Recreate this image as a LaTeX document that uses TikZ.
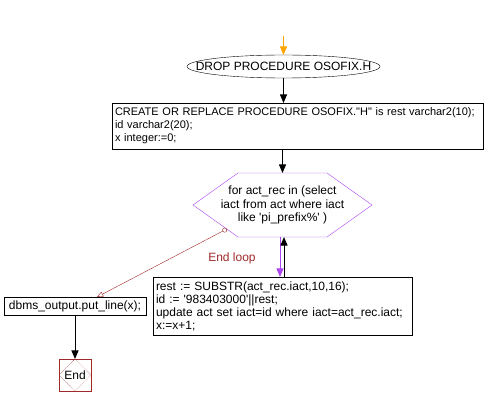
\documentclass[tikz,border=0pt]{standalone}
\usepackage{fontspec}
\setmainfont{Liberation Sans}[Ligatures=TeXOff]
\usetikzlibrary{arrows,calc,positioning,shapes.geometric}
\definecolor{loopviolet}{RGB}{170,70,240}
\definecolor{endred}{RGB}{160,40,40}
\definecolor{startorange}{RGB}{255,165,0}

\begin{document}
\begin{tikzpicture}[x=1pt,y=-1pt,>=triangle 45,
  every node/.style={font=\fontsize{12}{13}\selectfont, outer sep=0pt},
  box/.style={draw, rectangle, inner xsep=3pt, inner ysep=0pt, align=left},
  dropbox/.style={draw, ellipse, minimum width=193pt, minimum height=23pt, inner sep=0pt},
  loopbox/.style={minimum width=179pt, minimum height=64pt, inner sep=0pt, align=center,
    font=\fontsize{12}{13.5}\selectfont},
  stopbox/.style={draw=endred, minimum size=32pt, inner sep=0pt},
  flow/.style={->, line width=1pt}]

  \useasboundingbox (0,0) rectangle (485,406);

  \node(drop)[dropbox] at (283.5,66.5) {\makebox[0pt]{DROP PROCEDURE OSOFIX.H}};

  \node(create)[box,text width=365pt,minimum height=46pt,font=\fontsize{11}{13}\selectfont] at (297.5,126)
    {\mbox{CREATE OR REPLACE PROCEDURE OSOFIX."H" is rest varchar2(10);}\\
     id varchar2(20);\\
     x integer:=0;};

  % loop head, hexagon drawn round it
  \node(loop)[loopbox] at (282.5,205)
    {for act\_rec in (select\\iact from act where iact\\like 'pi\_prefix\%' )};
  \draw[loopviolet] (loop.west) -- ([xshift=45pt]loop.north west) -- ([xshift=-45pt]loop.north east)
    -- (loop.east) -- ([xshift=-45pt]loop.south east) -- ([xshift=45pt]loop.south west) -- cycle;

  \node(body)[box,text width=253pt,minimum height=58pt] at (282.5,306)
    {rest := SUBSTR(act\_rec.iact,10,16);\\
     id := '983403000'||rest;\\
     update act set iact=id where iact=act\_rec.iact;\\
     x:=x+1;};

  \node(output)[box,align=center,minimum width=142pt,minimum height=18pt,left=7pt of body] {dbms\_output.put\_line(x);};

  \node(stop)[stopbox,below=44pt of output] {End};
  \draw[endred,densely dotted] (stop.north) -- (stop.east) -- (stop.south) -- (stop.west) -- cycle;

  \node(endlabel)[text=endred] at (232,258) {End loop};

  \coordinate (start) at (283.5,36);
  \draw[flow,startorange] (start) to (drop);
  \draw[flow] (drop.south) to (drop.south |- create.north);
  \draw[flow] (loop.north |- create.south) to (loop.north);

  \draw[flow,loopviolet] ([xshift=-2.5pt]loop.south) to ([xshift=-2.5pt]loop.south |- body.north);
  \draw[flow] ([xshift=1.5pt]loop.south |- body.north) to ([xshift=1.5pt]loop.south);

  \coordinate (exit) at ($(loop.west)!0.75!([xshift=45pt]loop.south west)$);
  \draw[endred,>=open triangle 45,o->] (exit) to ([xshift=22pt]output.north);

  \draw[flow] (output) to (stop);
\end{tikzpicture}
\end{document}
